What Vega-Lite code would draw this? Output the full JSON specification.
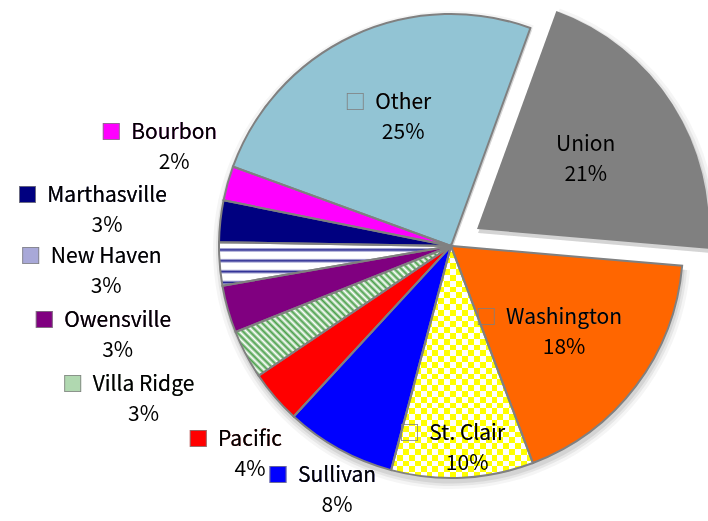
{
 "$schema": "https://vega.github.io/schema/vega-lite/v6.json",
 "width": 708, "height": 521,
 "autosize": {"type": "none"},
 "padding": 0,
 "background": "#ffffff",
 "config": {"view": {"stroke": null}, "text": {"font": "Noto Sans CJK SC", "fontSize": 21, "lineHeight": 30, "align": "center", "baseline": "middle", "dy": -15}},
 "data": {"values": [
  {"city": "Union", "share": 20.8},
  {"city": "Washington", "share": 17.9},
  {"city": "St. Clair", "share": 9.9},
  {"city": "Sullivan", "share": 7.7},
  {"city": "Pacific", "share": 3.7},
  {"city": "Villa Ridge", "share": 3.4},
  {"city": "Owensville", "share": 3.3},
  {"city": "New Haven", "share": 3.0},
  {"city": "Marthasville", "share": 2.9},
  {"city": "Bourbon", "share": 2.4},
  {"city": "Other", "share": 25.0}
 ]},
 "transform": [
  {"window": [{"op": "row_number", "as": "ord"}]},
  {"stack": "share", "groupby": [], "sort": [{"field": "ord", "order": "ascending"}], "as": ["s0", "s1"]},
  {"calculate": "(datum.s0 + datum.s1) / 2", "as": "mid"},
  {"calculate": "format(datum.share / 100, '.0%')", "as": "pct"},
  {"calculate": "'\u25a0\u00a0\u00a0' + datum.city", "as": "kf"},
  {"calculate": "'\u25a1\u00a0\u00a0' + datum.city", "as": "ko"},
  {"calculate": "['\u200b\u3000\u00a0\u00a0' + datum.city, '\u200b\u3000\u00a0\u00a0' + datum.pct]", "as": "lab"},
  {"calculate": "[datum.city, datum.pct]", "as": "plain"}
 ],
 "layer": [
  {"transform": [{"filter": "datum.city !== 'Union'"}, {"aggregate": [{"op": "min", "field": "s0", "as": "a0"}, {"op": "max", "field": "s1", "as": "a1"}]}],
   "encoding": {
    "theta": {"field": "a0", "type": "quantitative", "stack": null, "scale": {"domain": [0, 100], "range": [0.3491, 6.6323]}},
    "theta2": {"field": "a1"}
   },
   "layer": [
    {"mark": {"type": "arc", "x": 452, "y": 250, "outerRadius": 239, "fill": "#000000", "fillOpacity": 0.04}},
    {"mark": {"type": "arc", "x": 452, "y": 250, "outerRadius": 236, "fill": "#000000", "fillOpacity": 0.06}},
    {"mark": {"type": "arc", "x": 452, "y": 250, "outerRadius": 233.5, "fill": "#000000", "fillOpacity": 0.08}}
   ]},
  {"transform": [{"filter": "datum.city === 'Union'"}],
   "encoding": {
    "theta": {"field": "s0", "type": "quantitative", "stack": null, "scale": {"domain": [0, 100], "range": [0.3491, 6.6323]}},
    "theta2": {"field": "s1"}
   },
   "layer": [
    {"mark": {"type": "arc", "x": 478, "y": 233, "outerRadius": 239, "fill": "#000000", "fillOpacity": 0.04}},
    {"mark": {"type": "arc", "x": 478, "y": 233, "outerRadius": 236, "fill": "#000000", "fillOpacity": 0.06}},
    {"mark": {"type": "arc", "x": 478, "y": 233, "outerRadius": 233.5, "fill": "#000000", "fillOpacity": 0.08}}
   ]},
  {"transform": [{"filter": "datum.city !== 'Union'"}],
   "mark": {"type": "arc", "x": 451, "y": 246, "outerRadius": 232},
   "encoding": {
    "theta": {"field": "s0", "type": "quantitative", "stack": null, "scale": {"domain": [0, 100], "range": [0.3491, 6.6323]}},
    "theta2": {"field": "s1"},
    "color": {"field": "city", "type": "nominal", "legend": null, "scale": {"domain": ["Union","Washington","St. Clair","Sullivan","Pacific","Villa Ridge","Owensville","New Haven","Marthasville","Bourbon","Other"], "range": ["#808080","#ff6600","#ffff66","#0000ff","#ff0000","#b0d8b0","#800080","#a8a8d8","#000080","#ff00ff","#92c4d4"]}}
   }},
  {"transform": [{"filter": "datum.city === 'Union'"}],
   "mark": {"type": "arc", "x": 477, "y": 229, "outerRadius": 232},
   "encoding": {
    "theta": {"field": "s0", "type": "quantitative", "stack": null, "scale": {"domain": [0, 100], "range": [0.3491, 6.6323]}},
    "theta2": {"field": "s1"},
    "color": {"field": "city", "type": "nominal", "legend": null}
   }},
  {"transform": [{"filter": "datum.city === 'New Haven'"}],
   "mark": {"type": "arc", "x": 451, "y": 246, "outerRadius": 232,
    "fill": {"gradient": "linear", "x1": 0, "y1": 0, "x2": 0, "y2": 1, "stops": [
     {"offset": 0, "color": "#ffffff"}, {"offset": 0.12, "color": "#ffffff"}, {"offset": 0.175, "color": "#262690"}, {"offset": 0.23, "color": "#ffffff"},
     {"offset": 0.37, "color": "#ffffff"}, {"offset": 0.425, "color": "#262690"}, {"offset": 0.48, "color": "#ffffff"},
     {"offset": 0.62, "color": "#ffffff"}, {"offset": 0.675, "color": "#262690"}, {"offset": 0.73, "color": "#ffffff"},
     {"offset": 0.87, "color": "#ffffff"}, {"offset": 0.925, "color": "#262690"}, {"offset": 0.98, "color": "#ffffff"}, {"offset": 1, "color": "#ffffff"}]}},
   "encoding": {
    "theta": {"field": "s0", "type": "quantitative", "stack": null, "scale": {"domain": [0, 100], "range": [0.3491, 6.6323]}},
    "theta2": {"field": "s1"}
   }},
  {"transform": [{"filter": "datum.city === 'Villa Ridge'"}],
   "mark": {"type": "arc", "x": 451, "y": 246, "outerRadius": 232,
    "fill": {"gradient": "linear", "x1": -0.4426, "y1": 0.2673, "x2": 0.7327, "y2": -0.4426, "stops": [
     {"offset":0,"color":"#fff"},{"offset":0.01,"color":"#4a9f4a"},{"offset":0.02,"color":"#fff"},{"offset":0.03,"color":"#4a9f4a"},{"offset":0.04,"color":"#fff"},{"offset":0.05,"color":"#4a9f4a"},{"offset":0.06,"color":"#fff"},{"offset":0.07,"color":"#4a9f4a"},{"offset":0.08,"color":"#fff"},{"offset":0.09,"color":"#4a9f4a"},
     {"offset":0.1,"color":"#fff"},{"offset":0.11,"color":"#4a9f4a"},{"offset":0.12,"color":"#fff"},{"offset":0.13,"color":"#4a9f4a"},{"offset":0.14,"color":"#fff"},{"offset":0.15,"color":"#4a9f4a"},{"offset":0.16,"color":"#fff"},{"offset":0.17,"color":"#4a9f4a"},{"offset":0.18,"color":"#fff"},{"offset":0.19,"color":"#4a9f4a"},
     {"offset":0.2,"color":"#fff"},{"offset":0.21,"color":"#4a9f4a"},{"offset":0.22,"color":"#fff"},{"offset":0.23,"color":"#4a9f4a"},{"offset":0.24,"color":"#fff"},{"offset":0.25,"color":"#4a9f4a"},{"offset":0.26,"color":"#fff"},{"offset":0.27,"color":"#4a9f4a"},{"offset":0.28,"color":"#fff"},{"offset":0.29,"color":"#4a9f4a"},
     {"offset":0.3,"color":"#fff"},{"offset":0.31,"color":"#4a9f4a"},{"offset":0.32,"color":"#fff"},{"offset":0.33,"color":"#4a9f4a"},{"offset":0.34,"color":"#fff"},{"offset":0.35,"color":"#4a9f4a"},{"offset":0.36,"color":"#fff"},{"offset":0.37,"color":"#4a9f4a"},{"offset":0.38,"color":"#fff"},{"offset":0.39,"color":"#4a9f4a"},
     {"offset":0.4,"color":"#fff"},{"offset":0.41,"color":"#4a9f4a"},{"offset":0.42,"color":"#fff"},{"offset":0.43,"color":"#4a9f4a"},{"offset":0.44,"color":"#fff"},{"offset":0.45,"color":"#4a9f4a"},{"offset":0.46,"color":"#fff"},{"offset":0.47,"color":"#4a9f4a"},{"offset":0.48,"color":"#fff"},{"offset":0.49,"color":"#4a9f4a"},
     {"offset":0.5,"color":"#fff"},{"offset":0.51,"color":"#4a9f4a"},{"offset":0.52,"color":"#fff"},{"offset":0.53,"color":"#4a9f4a"},{"offset":0.54,"color":"#fff"},{"offset":0.55,"color":"#4a9f4a"},{"offset":0.56,"color":"#fff"},{"offset":0.57,"color":"#4a9f4a"},{"offset":0.58,"color":"#fff"},{"offset":0.59,"color":"#4a9f4a"},
     {"offset":0.6,"color":"#fff"},{"offset":0.61,"color":"#4a9f4a"},{"offset":0.62,"color":"#fff"},{"offset":0.63,"color":"#4a9f4a"},{"offset":0.64,"color":"#fff"},{"offset":0.65,"color":"#4a9f4a"},{"offset":0.66,"color":"#fff"},{"offset":0.67,"color":"#4a9f4a"},{"offset":0.68,"color":"#fff"},{"offset":0.69,"color":"#4a9f4a"},
     {"offset":0.7,"color":"#fff"},{"offset":0.71,"color":"#4a9f4a"},{"offset":0.72,"color":"#fff"},{"offset":0.73,"color":"#4a9f4a"},{"offset":0.74,"color":"#fff"},{"offset":0.75,"color":"#4a9f4a"},{"offset":0.76,"color":"#fff"},{"offset":0.77,"color":"#4a9f4a"},{"offset":0.78,"color":"#fff"},{"offset":0.79,"color":"#4a9f4a"},
     {"offset":0.8,"color":"#fff"},{"offset":0.81,"color":"#4a9f4a"},{"offset":0.82,"color":"#fff"},{"offset":0.83,"color":"#4a9f4a"},{"offset":0.84,"color":"#fff"},{"offset":0.85,"color":"#4a9f4a"},{"offset":0.86,"color":"#fff"},{"offset":0.87,"color":"#4a9f4a"},{"offset":0.88,"color":"#fff"},{"offset":0.89,"color":"#4a9f4a"},
     {"offset":0.9,"color":"#fff"},{"offset":0.91,"color":"#4a9f4a"},{"offset":0.92,"color":"#fff"},{"offset":0.93,"color":"#4a9f4a"},{"offset":0.94,"color":"#fff"},{"offset":0.95,"color":"#4a9f4a"},{"offset":0.96,"color":"#fff"},{"offset":0.97,"color":"#4a9f4a"},{"offset":0.98,"color":"#fff"},{"offset":0.99,"color":"#4a9f4a"},
     {"offset":1,"color":"#fff"}]}},
   "encoding": {
    "theta": {"field": "s0", "type": "quantitative", "stack": null, "scale": {"domain": [0, 100], "range": [0.3491, 6.6323]}},
    "theta2": {"field": "s1"}
   }},
  {"transform": [{"filter": "datum.city === 'St. Clair'"}],
   "mark": {"type": "arc", "x": 451, "y": 246, "outerRadius": 232,
    "fill": {"gradient": "linear", "x1": 0, "y1": 0, "x2": 1, "y2": 0, "stops": [
     {"offset":0,"color":"#ffff00"},{"offset":0.0417,"color":"#ffff00"},{"offset":0.0417,"color":"#ffffff"},{"offset":0.0833,"color":"#ffffff"},
     {"offset":0.0833,"color":"#ffff00"},{"offset":0.125,"color":"#ffff00"},{"offset":0.125,"color":"#ffffff"},{"offset":0.1667,"color":"#ffffff"},
     {"offset":0.1667,"color":"#ffff00"},{"offset":0.2083,"color":"#ffff00"},{"offset":0.2083,"color":"#ffffff"},{"offset":0.25,"color":"#ffffff"},
     {"offset":0.25,"color":"#ffff00"},{"offset":0.2917,"color":"#ffff00"},{"offset":0.2917,"color":"#ffffff"},{"offset":0.3333,"color":"#ffffff"},
     {"offset":0.3333,"color":"#ffff00"},{"offset":0.375,"color":"#ffff00"},{"offset":0.375,"color":"#ffffff"},{"offset":0.4167,"color":"#ffffff"},
     {"offset":0.4167,"color":"#ffff00"},{"offset":0.4583,"color":"#ffff00"},{"offset":0.4583,"color":"#ffffff"},{"offset":0.5,"color":"#ffffff"},
     {"offset":0.5,"color":"#ffff00"},{"offset":0.5417,"color":"#ffff00"},{"offset":0.5417,"color":"#ffffff"},{"offset":0.5833,"color":"#ffffff"},
     {"offset":0.5833,"color":"#ffff00"},{"offset":0.625,"color":"#ffff00"},{"offset":0.625,"color":"#ffffff"},{"offset":0.6667,"color":"#ffffff"},
     {"offset":0.6667,"color":"#ffff00"},{"offset":0.7083,"color":"#ffff00"},{"offset":0.7083,"color":"#ffffff"},{"offset":0.75,"color":"#ffffff"},
     {"offset":0.75,"color":"#ffff00"},{"offset":0.7917,"color":"#ffff00"},{"offset":0.7917,"color":"#ffffff"},{"offset":0.8333,"color":"#ffffff"},
     {"offset":0.8333,"color":"#ffff00"},{"offset":0.875,"color":"#ffff00"},{"offset":0.875,"color":"#ffffff"},{"offset":0.9167,"color":"#ffffff"},
     {"offset":0.9167,"color":"#ffff00"},{"offset":0.9583,"color":"#ffff00"},{"offset":0.9583,"color":"#ffffff"},{"offset":1,"color":"#ffffff"}]}},
   "encoding": {
    "theta": {"field": "s0", "type": "quantitative", "stack": null, "scale": {"domain": [0, 100], "range": [0.3491, 6.6323]}},
    "theta2": {"field": "s1"}
   }},
  {"transform": [{"filter": "datum.city === 'St. Clair'"}],
   "mark": {"type": "arc", "x": 451, "y": 246, "outerRadius": 232, "blend": "difference",
    "fill": {"gradient": "linear", "x1": 0, "y1": 0, "x2": 0, "y2": 1, "stops": [
     {"offset":0,"color":"#0000ff"},{"offset":0.025,"color":"#0000ff"},{"offset":0.025,"color":"#000000"},{"offset":0.05,"color":"#000000"},
     {"offset":0.05,"color":"#0000ff"},{"offset":0.075,"color":"#0000ff"},{"offset":0.075,"color":"#000000"},{"offset":0.1,"color":"#000000"},
     {"offset":0.1,"color":"#0000ff"},{"offset":0.125,"color":"#0000ff"},{"offset":0.125,"color":"#000000"},{"offset":0.15,"color":"#000000"},
     {"offset":0.15,"color":"#0000ff"},{"offset":0.175,"color":"#0000ff"},{"offset":0.175,"color":"#000000"},{"offset":0.2,"color":"#000000"},
     {"offset":0.2,"color":"#0000ff"},{"offset":0.225,"color":"#0000ff"},{"offset":0.225,"color":"#000000"},{"offset":0.25,"color":"#000000"},
     {"offset":0.25,"color":"#0000ff"},{"offset":0.275,"color":"#0000ff"},{"offset":0.275,"color":"#000000"},{"offset":0.3,"color":"#000000"},
     {"offset":0.3,"color":"#0000ff"},{"offset":0.325,"color":"#0000ff"},{"offset":0.325,"color":"#000000"},{"offset":0.35,"color":"#000000"},
     {"offset":0.35,"color":"#0000ff"},{"offset":0.375,"color":"#0000ff"},{"offset":0.375,"color":"#000000"},{"offset":0.4,"color":"#000000"},
     {"offset":0.4,"color":"#0000ff"},{"offset":0.425,"color":"#0000ff"},{"offset":0.425,"color":"#000000"},{"offset":0.45,"color":"#000000"},
     {"offset":0.45,"color":"#0000ff"},{"offset":0.475,"color":"#0000ff"},{"offset":0.475,"color":"#000000"},{"offset":0.5,"color":"#000000"},
     {"offset":0.5,"color":"#0000ff"},{"offset":0.525,"color":"#0000ff"},{"offset":0.525,"color":"#000000"},{"offset":0.55,"color":"#000000"},
     {"offset":0.55,"color":"#0000ff"},{"offset":0.575,"color":"#0000ff"},{"offset":0.575,"color":"#000000"},{"offset":0.6,"color":"#000000"},
     {"offset":0.6,"color":"#0000ff"},{"offset":0.625,"color":"#0000ff"},{"offset":0.625,"color":"#000000"},{"offset":0.65,"color":"#000000"},
     {"offset":0.65,"color":"#0000ff"},{"offset":0.675,"color":"#0000ff"},{"offset":0.675,"color":"#000000"},{"offset":0.7,"color":"#000000"},
     {"offset":0.7,"color":"#0000ff"},{"offset":0.725,"color":"#0000ff"},{"offset":0.725,"color":"#000000"},{"offset":0.75,"color":"#000000"},
     {"offset":0.75,"color":"#0000ff"},{"offset":0.775,"color":"#0000ff"},{"offset":0.775,"color":"#000000"},{"offset":0.8,"color":"#000000"},
     {"offset":0.8,"color":"#0000ff"},{"offset":0.825,"color":"#0000ff"},{"offset":0.825,"color":"#000000"},{"offset":0.85,"color":"#000000"},
     {"offset":0.85,"color":"#0000ff"},{"offset":0.875,"color":"#0000ff"},{"offset":0.875,"color":"#000000"},{"offset":0.9,"color":"#000000"},
     {"offset":0.9,"color":"#0000ff"},{"offset":0.925,"color":"#0000ff"},{"offset":0.925,"color":"#000000"},{"offset":0.95,"color":"#000000"},
     {"offset":0.95,"color":"#0000ff"},{"offset":0.975,"color":"#0000ff"},{"offset":0.975,"color":"#000000"},{"offset":1,"color":"#000000"}]}},
   "encoding": {
    "theta": {"field": "s0", "type": "quantitative", "stack": null, "scale": {"domain": [0, 100], "range": [0.3491, 6.6323]}},
    "theta2": {"field": "s1"}
   }},
  {"transform": [{"filter": "datum.city !== 'Union'"}],
   "mark": {"type": "arc", "x": 451, "y": 246, "outerRadius": 232, "fillOpacity": 0, "stroke": "#808080", "strokeWidth": 2},
   "encoding": {
    "theta": {"field": "s0", "type": "quantitative", "stack": null, "scale": {"domain": [0, 100], "range": [0.3491, 6.6323]}},
    "theta2": {"field": "s1"}
   }},
  {"transform": [{"filter": "datum.city === 'Other'"}],
   "encoding": {"theta": {"field": "mid", "type": "quantitative", "stack": null, "scale": {"domain": [0, 100], "range": [0.3491, 6.6323]}}},
   "layer": [
    {"mark": {"type": "text", "x": 451, "y": 246, "radius": 143, "thetaOffset": -0.02, "fill": "#7f7f7f"}, "encoding": {"text": {"field": "ko"}}},
    {"mark": {"type": "text", "x": 451, "y": 246, "radius": 143, "thetaOffset": -0.02, "fill": "#000000"}, "encoding": {"text": {"field": "lab"}}}
   ]},
  {"transform": [{"filter": "datum.city === 'Washington'"}],
   "encoding": {"theta": {"field": "mid", "type": "quantitative", "stack": null, "scale": {"domain": [0, 100], "range": [0.3491, 6.6323]}}},
   "layer": [
    {"mark": {"type": "text", "x": 451, "y": 246, "radius": 131, "thetaOffset": 0.079, "fill": "#7f7f7f"}, "encoding": {"text": {"field": "ko"}}},
    {"mark": {"type": "text", "x": 451, "y": 246, "radius": 131, "thetaOffset": 0.079, "fill": "#000000"}, "encoding": {"text": {"field": "lab"}}}
   ]},
  {"transform": [{"filter": "datum.city === 'St. Clair'"}],
   "encoding": {"theta": {"field": "mid", "type": "quantitative", "stack": null, "scale": {"domain": [0, 100], "range": [0.3491, 6.6323]}}},
   "layer": [
    {"mark": {"type": "text", "x": 451, "y": 246, "radius": 203, "thetaOffset": 0.045, "fill": "#7f7f7f"}, "encoding": {"text": {"field": "ko"}}},
    {"mark": {"type": "text", "x": 451, "y": 246, "radius": 203, "thetaOffset": 0.045, "fill": "#000000"}, "encoding": {"text": {"field": "lab"}}}
   ]},
  {"transform": [{"filter": "datum.city === 'Bourbon'"}],
   "encoding": {"theta": {"field": "mid", "type": "quantitative", "stack": null, "scale": {"domain": [0, 100], "range": [0.3491, 6.6323]}}},
   "layer": [
    {"mark": {"type": "text", "x": 451, "y": 246, "radius": 308, "thetaOffset": 0.05}, "encoding": {"text": {"field": "kf"}, "color": {"field": "city", "type": "nominal", "legend": null}}},
    {"mark": {"type": "text", "x": 451, "y": 246, "radius": 308, "thetaOffset": 0.05, "fill": "#7f7f7f"}, "encoding": {"text": {"field": "ko"}}},
    {"mark": {"type": "text", "x": 451, "y": 246, "radius": 308, "thetaOffset": 0.05, "fill": "#000000"}, "encoding": {"text": {"field": "lab"}}}
   ]},
  {"transform": [{"filter": "datum.city === 'Pacific'"}],
   "encoding": {"theta": {"field": "mid", "type": "quantitative", "stack": null, "scale": {"domain": [0, 100], "range": [0.3491, 6.6323]}}},
   "layer": [
    {"mark": {"type": "text", "x": 451, "y": 246, "radius": 301, "thetaOffset": -0.06}, "encoding": {"text": {"field": "kf"}, "color": {"field": "city", "type": "nominal", "legend": null}}},
    {"mark": {"type": "text", "x": 451, "y": 246, "radius": 301, "thetaOffset": -0.06, "fill": "#7f7f7f"}, "encoding": {"text": {"field": "ko"}}},
    {"mark": {"type": "text", "x": 451, "y": 246, "radius": 301, "thetaOffset": -0.06, "fill": "#000000"}, "encoding": {"text": {"field": "lab"}}}
   ]},
  {"transform": [{"filter": "datum.city === 'Sullivan'"}],
   "encoding": {"theta": {"field": "mid", "type": "quantitative", "stack": null, "scale": {"domain": [0, 100], "range": [0.3491, 6.6323]}}},
   "layer": [
    {"mark": {"type": "text", "x": 451, "y": 246, "radius": 277, "thetaOffset": -0.018}, "encoding": {"text": {"field": "kf"}, "color": {"field": "city", "type": "nominal", "legend": null}}},
    {"mark": {"type": "text", "x": 451, "y": 246, "radius": 277, "thetaOffset": -0.018, "fill": "#7f7f7f"}, "encoding": {"text": {"field": "ko"}}},
    {"mark": {"type": "text", "x": 451, "y": 246, "radius": 277, "thetaOffset": -0.018, "fill": "#000000"}, "encoding": {"text": {"field": "lab"}}}
   ]},
  {"transform": [{"filter": {"field": "city", "oneOf": ["Marthasville", "New Haven", "Owensville", "Villa Ridge"]}}],
   "encoding": {"theta": {"field": "mid", "type": "quantitative", "stack": null, "scale": {"domain": [0, 100], "range": [0.3491, 6.6323]}}},
   "layer": [
    {"mark": {"type": "text", "x": 420, "y": 246, "radius": 330}, "encoding": {"text": {"field": "kf"}, "color": {"field": "city", "type": "nominal", "legend": null}}},
    {"mark": {"type": "text", "x": 420, "y": 246, "radius": 330, "fill": "#7f7f7f"}, "encoding": {"text": {"field": "ko"}}},
    {"mark": {"type": "text", "x": 420, "y": 246, "radius": 330, "fill": "#000000"}, "encoding": {"text": {"field": "lab"}}}
   ]},
  {"transform": [{"filter": "datum.city === 'Union'"}],
   "mark": {"type": "text", "x": 477, "y": 229, "radius": 129, "fill": "#000000"},
   "encoding": {
    "theta": {"field": "mid", "type": "quantitative", "stack": null, "scale": {"domain": [0, 100], "range": [0.3491, 6.6323]}},
    "text": {"field": "plain"}
   }}
 ]
}
